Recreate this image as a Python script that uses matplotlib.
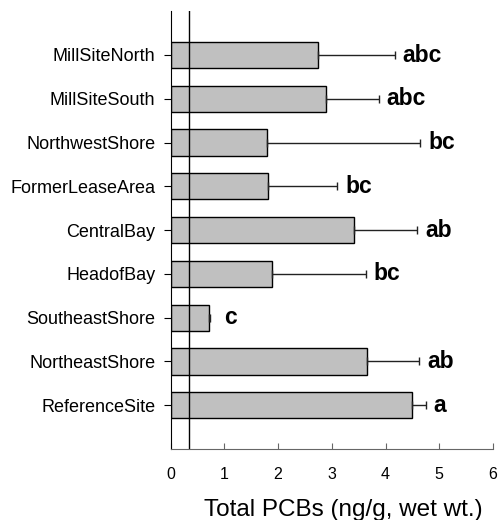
import numpy as np
import matplotlib
matplotlib.use("Agg")
import matplotlib.pyplot as plt

plt.rcParams['font.family'] = ['Liberation Sans', 'DejaVu Sans']

# --- dados (de baixo para cima) ---
sites = ["ReferenceSite", "NortheastShore", "SoutheastShore", "HeadofBay",
         "CentralBay", "FormerLeaseArea", "NorthwestShore", "MillSiteSouth",
         "MillSiteNorth"]
means = [4.50, 3.65, 0.72, 1.89, 3.41, 1.81, 1.80, 2.90, 2.74]
errs = [0.25, 0.97, 0.02, 1.74, 1.18, 1.29, 2.85, 0.97, 1.43]
letters = ["a", "ab", "c", "bc", "ab", "bc", "bc", "abc", "abc"]
ref_line = 0.35

fig = plt.figure(figsize=(5, 5.2), dpi=100)
ax = fig.add_axes([0.341, 0.1365, 0.645, 0.842])

y = np.arange(len(sites))
ax.barh(y, means, height=0.6, color="#c0c0c0", edgecolor="black", linewidth=1,
        xerr=[np.zeros(len(errs)), errs],
        error_kw=dict(ecolor="#222222", elinewidth=1, capsize=3, capthick=1))

for yi, m, e, lab in zip(y, means, errs, letters):
    off = 0.25 if m < 1 else 0.15
    ax.text(m + e + off, yi - 0.15, lab, ha="left", va="baseline",
            fontsize=16.5, fontweight="bold")

ax.axvline(ref_line, color="black", linewidth=1)

ax.set_xlim(0, 6)
ax.set_ylim(-1, len(sites))
ax.set_xticks(range(7))
ax.set_yticks(y)
ax.set_yticklabels(sites)
ax.tick_params(axis="y", direction="out", length=5, labelsize=13, pad=6)
ax.tick_params(axis="x", direction="in", length=4, labelsize=11.5, pad=13,
               color="#666666")
ax.spines["top"].set_visible(False)
ax.spines["right"].set_visible(False)
ax.spines["bottom"].set_color("#666666")
ax.set_xlabel("Total PCBs (ng/g, wet wt.)", fontsize=17.5, labelpad=8)
ax.xaxis.set_label_coords(0.536, -0.115)

fig.savefig("out.png", dpi=100)
